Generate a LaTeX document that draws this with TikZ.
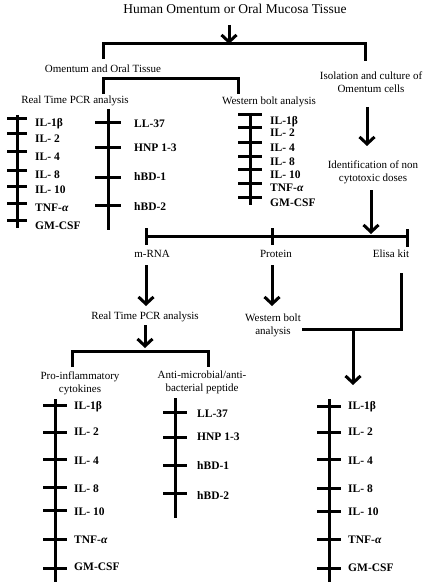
\documentclass[tikz,border=0pt]{standalone}
\usepackage{fontspec}
\setmainfont{Liberation Serif}
\usetikzlibrary{arrows.meta}
\tikzset{
  txt/.style={font=\fontsize{11}{13}\selectfont, align=center, inner sep=0pt},
  ttl/.style={font=\fontsize{13.5}{15}\selectfont, inner sep=0pt},
  lbl/.style={font=\bfseries\fontsize{11.5}{13}\selectfont, anchor=west, inner sep=0pt},
  ln/.style={line width=3pt, line cap=butt},
  arr/.style={line width=3pt, -{Straight Barb[length=7pt,width=15pt]}},
}
% #1 name, #2 x, #3 top y, #4 bottom y, #5 half tick, #6 label x, #7 list ticky/labely/text
\newcommand{\myticklist}[7]{%
  \coordinate (#1-top) at (#2,#3);
  \coordinate (#1-bot) at (#2,#4);
  \draw[ln] (#1-top) -- (#1-bot);
  \foreach \ty/\ly/\tx [count=\i] in {#7}{%
    \coordinate (#1-a\i) at (#2-#5,\ty);
    \coordinate (#1-b\i) at (#2+#5,\ty);
    \draw[ln] (#1-a\i) -- (#1-b\i);
    \node[lbl] (#1-l\i) at (#6,\ly) {\tx};
  }%
}
\begin{document}
\begin{tikzpicture}[x=1pt,y=-1pt]
\useasboundingbox (0,0) rectangle (430,588);

% title and top bracket
\node[ttl] (title) at (235,9) {Human Omentum or Oral Mucosa  Tissue};
\coordinate (a0) at (229,25);
\coordinate (a0e) at (229,44);
\draw[arr] (a0) -- (a0e);
\coordinate (b1l) at (103,59);
\coordinate (b1lt) at (103,44);
\coordinate (b1rt) at (365,44);
\coordinate (b1r) at (365,61);
\draw[ln] (b1l) -- (b1lt) -- (b1rt) -- (b1r);

\node[txt] (omtis) at (103,69) {Omentum and Oral Tissue};
\node[txt] (iso) at (371,82.5) {Isolation and culture of\\Omentum cells};

% second bracket
\coordinate (b2l) at (103,94);
\coordinate (b2lt) at (103,79);
\coordinate (b2rt) at (238,79);
\coordinate (b2r) at (238,94);
\draw[ln] (b2l) -- (b2lt) -- (b2rt) -- (b2r);

\node[txt] (pcr1) at (75,101) {Real Time  PCR analysis};
\node[txt] (wb1) at (269,102) {Western bolt analysis};

% top lists
\myticklist{la}{17}{115}{228}{10}{35}{119/124/IL-1β,134/139/IL- 2,152/157/IL- 4,170/175/IL- 8,186/190/IL- 10,203/208/TNF-\textit{α},220/226/GM-CSF}
\myticklist{lb}{108}{109}{230}{13}{134}{123/124/LL-37,148/148/HNP 1-3,177/177/hBD-1,205/207/hBD-2}
\myticklist{lc}{250}{113}{205}{12}{270}{115/122/IL-1β,128/133/IL- 2,143/148/IL- 4,157/162/IL- 8,169/175/IL- 10,183/188/TNF-\textit{α},197/203/GM-CSF}

% right column
\coordinate (r1) at (367,107);
\coordinate (r1e) at (367,146);
\draw[arr] (r1) -- (r1e);
\node[txt] (ident) at (373,172.5) {Identification of non\\cytotoxic doses};
\coordinate (r2) at (371,190);
\coordinate (r2e) at (371,234);
\draw[arr] (r2) -- (r2e);

% middle bracket
\coordinate (mL) at (146,236);
\coordinate (mM) at (272,236);
\coordinate (mR) at (407,236);
\draw[ln] (mL) -- (mR);
\coordinate (mLt) at (146,228); \coordinate (mLb) at (146,245);
\coordinate (mMt) at (272,228); \coordinate (mMb) at (272,245);
\coordinate (mRt) at (407,229); \coordinate (mRb) at (407,247);
\draw[ln] (mLt) -- (mLb);
\draw[ln] (mMt) -- (mMb);
\draw[ln] (mRt) -- (mRb);

\node[txt] (mrna) at (152,254) {m-RNA};
\node[txt] (prot) at (276,254) {Protein};
\node[txt] (elisa) at (391,254) {Elisa kit};

\coordinate (p1) at (146,265); \coordinate (p1e) at (146,306);
\draw[arr] (p1) -- (p1e);
\coordinate (p2) at (272,265); \coordinate (p2e) at (272,306);
\draw[arr] (p2) -- (p2e);

\node[txt] (pcr2) at (145,317) {Real Time  PCR analysis};
\node[txt] (wb2) at (273,325.5) {Western bolt\\analysis};

% elisa connector
\coordinate (e1) at (401,273);
\coordinate (e2) at (401,329);
\coordinate (e3) at (302,329);
\coordinate (e4) at (353,329);
\coordinate (e5) at (353,385);
\draw[ln] (e1) -- (e2) -- (e3);
\draw[arr] (e4) -- (e5);

% PCR bracket
\coordinate (q1) at (145,325); \coordinate (q1e) at (145,348);
\draw[arr] (q1) -- (q1e);
\coordinate (b3l) at (72,367);
\coordinate (b3lt) at (72,351);
\coordinate (b3rt) at (208,351);
\coordinate (b3r) at (208,367);
\draw[ln] (b3l) -- (b3lt) -- (b3rt) -- (b3r);

\node[txt] (proinf) at (80,383) {Pro-inflammatory\\cytokines};
\node[txt] (antim) at (202,382) {Anti-microbial/anti-\\bacterial peptide};

% bottom lists
\myticklist{ld}{55}{399}{582}{12}{74}{405/407/IL-1β,432/432/IL- 2,459/461/IL- 4,487/489/IL- 8,510/512/IL- 10,539/540/TNF-\textit{α},568/567/GM-CSF}
\myticklist{le}{175}{398}{518}{12}{197}{412/414/LL-37,437/437/HNP 1-3,465/466/hBD-1,493/496/hBD-2}
\myticklist{lf}{329}{399}{582}{12}{348}{406/407/IL-1β,432/432/IL- 2,459/461/IL- 4,488/489/IL- 8,511/512/IL- 10,539/540/TNF-\textit{α},568/568/GM-CSF}

\end{tikzpicture}
\end{document}
